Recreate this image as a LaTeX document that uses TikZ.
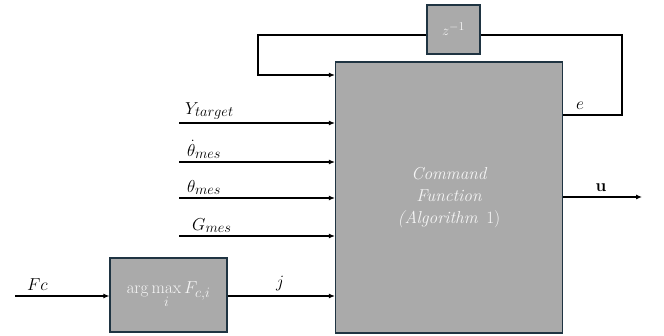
\documentclass[tikz,border=0pt]{standalone}
\usepackage{amsmath}
\usepackage{tikz}
\usepackage{xcolor}
\usetikzlibrary{arrows.meta,calc}
\DeclareMathSizes{17.28}{17.28}{14.4}{12}
\DeclareMathSizes{14.4}{14.4}{12}{10}
\definecolor{blockgray}{RGB}{170,170,170}
\definecolor{blockedge}{RGB}{31,52,66}
\definecolor{blocktext}{RGB}{245,245,245}
\definecolor{wireblack}{RGB}{0,0,0}

\begin{document}
\begin{tikzpicture}[x=1pt, y=-1pt,
    block/.style={draw=blockedge, fill=blockgray, line width=1.2pt, text=blocktext, align=center},
    sig/.style={draw=wireblack, line width=1.1pt},
    sigarrow/.style={sig, -{Latex[length=6pt,width=5pt]}},
    lbl/.style={font=\LARGE, inner sep=1pt}]

\useasboundingbox (0,0) rectangle (664,336);

% 1. BLOCKS
\node[block, minimum width=227pt, minimum height=271pt, font=\LARGE\itshape]
    (cmd) at (449,197.5) {Command\\Function\\(Algorithm\enspace\upshape 1)};
\node[block, minimum width=53pt, minimum height=49pt, font=\Large] (delay) at (453.5,29.5) {$z^{-1}$};
\node[block, minimum width=117pt, minimum height=74pt, font=\LARGE]
    (amax) at (168.5,295) {$\displaystyle\arg\max_{i} F_{c,i}$};

% 2. MEASURED INPUTS
\coordinate (ytgt) at (179,123);
\coordinate (thdot) at (179,162);
\coordinate (th) at (179,198);
\coordinate (gmes) at (179,236);
\draw[sigarrow] (ytgt) -- (ytgt -| cmd.west);
\draw[sigarrow] (thdot) -- (thdot -| cmd.west);
\draw[sigarrow] (th) -- (th -| cmd.west);
\draw[sigarrow] (gmes) -- (gmes -| cmd.west);
\node[lbl, anchor=south west] (lytgt) at (184,121) {$Y_{target}$};
\node[lbl, anchor=south west] (lthdot) at (186,160) {$\dot{\theta}_{mes}$};
\node[lbl, anchor=south west] (lth) at (186,196) {$\theta_{mes}$};
\node[lbl, anchor=south west] (lgmes) at (191,234) {$G_{mes}$};

% 3. FC PATH
\coordinate (fcin) at (15,296);
\draw[sigarrow] (fcin) -- (amax.west |- fcin);
\draw[sigarrow] (amax.east |- fcin) -- (cmd.west |- fcin);
\node[lbl, anchor=south west] (lfc) at (26,292) {$Fc$};
\node[lbl, anchor=south] (lj) at (280,292) {$j$};

% 4. FEEDBACK LOOP
\coordinate (eout) at (622,115);
\coordinate (fbleft) at (258,35);
\draw[sig] (cmd.east |- eout) -- (eout) -- (eout |- fbleft) -- (delay.east |- fbleft);
\draw[sigarrow] (delay.west |- fbleft) -- (fbleft) -- (258,75) -- (cmd.west |- 0,75);
\node[lbl, anchor=south] (le) at (580,111) {$e$};

% 5. OUTPUT
\coordinate (uout) at (642,197);
\draw[sigarrow] (cmd.east |- uout) -- (uout);
\node[lbl, anchor=south] (lu) at (601,193) {$\mathbf{u}$};

\end{tikzpicture}
\end{document}
